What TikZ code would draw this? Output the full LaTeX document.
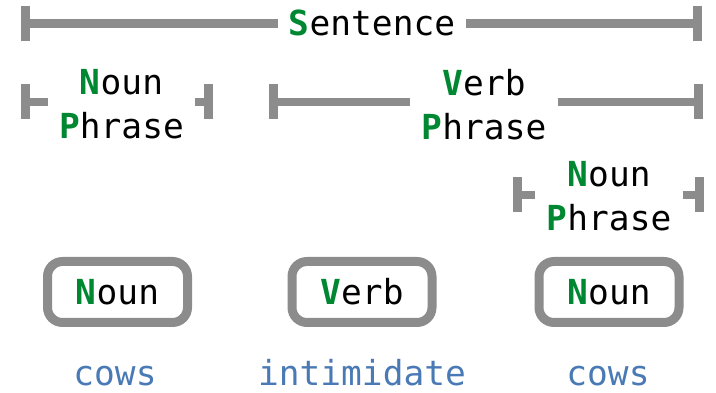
\documentclass[tikz,border=0pt]{standalone}
\usepackage{fontspec}
\setmainfont{DejaVu Sans Mono}
\usetikzlibrary{positioning}

\definecolor{gry}{RGB}{140,140,140}
\definecolor{grn}{RGB}{0,135,50}
\definecolor{wrdblue}{RGB}{74,122,181}
\newcommand{\capl}[1]{\textcolor{grn}{\textbf{#1}}}

\begin{document}
\begin{tikzpicture}[x=1pt,y=-1pt,
	lbl/.style={font=\fontsize{34.5}{44}\selectfont, inner xsep=11pt, inner ysep=0pt, align=center},
	brk/.style={draw=gry, line width=8.5pt},
	tick/.style={fill=gry, minimum width=9pt, minimum height=35pt, inner sep=0pt},
	wordbox/.style={lbl, draw=gry, line width=9pt, rounded corners=15pt, minimum width=140pt, minimum height=61pt},
	word/.style={lbl, text=wrdblue, anchor=base}]

		\useasboundingbox (0,0) rectangle (716,393);

		% sentence
		\node[tick] (s1) at (25.5,23.5) {};
		\node[tick] (s2) at (697,23.5) {};
		\node[lbl] (sent) at (372,22.5) {\capl{S}entence};
		\draw[brk] (s1.center) -- (s1 -| sent.west);
		\draw[brk] (s2 -| sent.east) -- (s2.center);

		% noun phrase (left)
		\node[tick] (n1) at (25.5,102) {};
		\node[tick] (n2) at (208.5,102) {};
		\node[lbl] (np1) at (121.5,104.5) {\capl{N}oun\\\capl{P}hrase};
		\draw[brk] (n1.center) -- (n1 -| np1.west);
		\draw[brk] (n2 -| np1.east) -- (n2.center);

		% verb phrase
		\node[tick] (v1) at (273.5,102) {};
		\node[tick] (v2) at (698,102) {};
		\node[lbl] (vp) at (484,104.5) {\capl{V}erb\\\capl{P}hrase};
		\draw[brk] (v1.center) -- (v1 -| vp.west);
		\draw[brk] (v2 -| vp.east) -- (v2.center);

		% noun phrase (right)
		\node[tick] (m1) at (517,195) {};
		\node[tick] (m2) at (699,195) {};
		\node[lbl] (np2) at (609,196.5) {\capl{N}oun\\\capl{P}hrase};
		\draw[brk] (m1.center) -- (m1 -| np2.west);
		\draw[brk] (m2 -| np2.east) -- (m2.center);

		% word classes
		\node[wordbox] (noun1) at (117.5,292) {\capl{N}oun};
		\node[wordbox] (verb) at (362,292) {\capl{V}erb};
		\node[wordbox] (noun2) at (609,292) {\capl{N}oun};

		% words
		\node[word] (cows1) at (115,385) {cows};
		\node[word] (intim) at (362,385) {intimidate};
		\node[word] (cows2) at (608,385) {cows};

	\end{tikzpicture}
\end{document}
